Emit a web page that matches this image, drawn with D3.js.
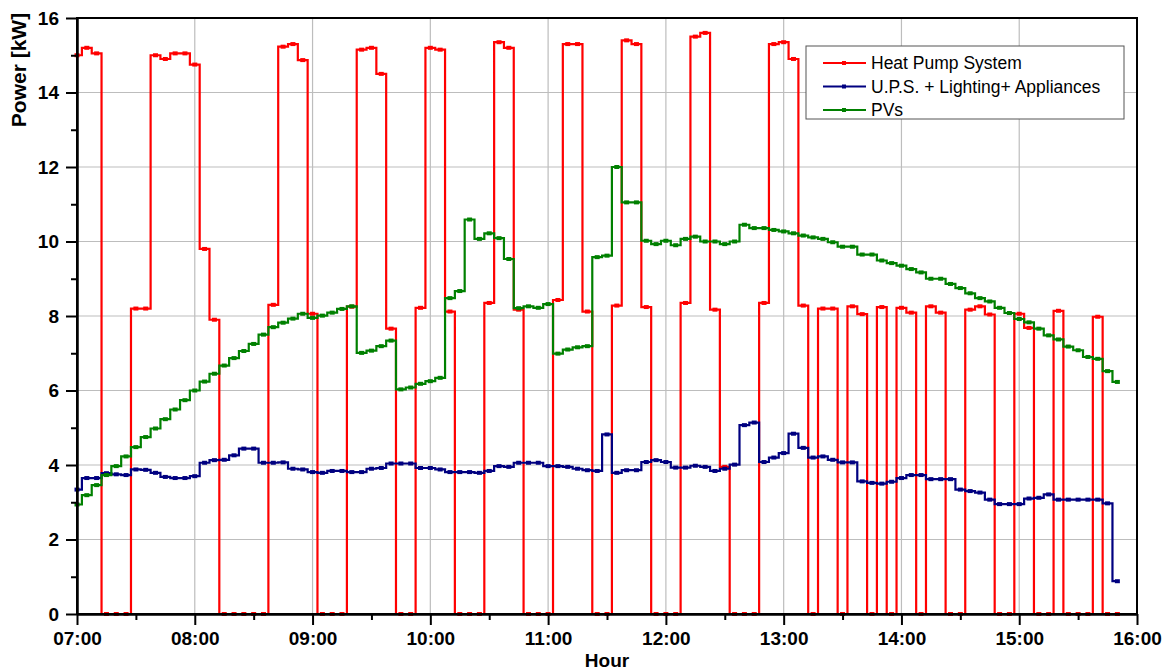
<!DOCTYPE html>
<html>
<head>
<meta charset="utf-8">
<script src="https://cdn.jsdelivr.net/npm/d3@7"></script>
<style>
    body { margin: 0; background: #fff; }
    svg { display: block; font-family: "Liberation Sans", Arial, sans-serif; }
</style>
</head>
<body>
<svg id="chart" width="1167" height="672"></svg>
<script>

// sample times (5 min logging)
var times = [
    "07:00","07:05","07:10","07:15","07:20","07:25","07:30","07:35","07:40","07:45","07:50","07:55",
    "08:00","08:05","08:10","08:15","08:20","08:25","08:30","08:35","08:40","08:45","08:50","08:55",
    "09:00","09:05","09:10","09:15","09:20","09:25","09:30","09:35","09:40","09:45","09:50","09:55",
    "10:00","10:05","10:10","10:15","10:20","10:25","10:30","10:35","10:40","10:45","10:50","10:55",
    "11:00","11:05","11:10","11:15","11:20","11:25","11:30","11:35","11:40","11:45","11:50","11:55",
    "12:00","12:05","12:10","12:15","12:20","12:25","12:30","12:35","12:40","12:45","12:50","12:55",
    "13:00","13:05","13:10","13:15","13:20","13:25","13:30","13:35","13:40","13:45","13:50","13:55",
    "14:00","14:05","14:10","14:15","14:20","14:25","14:30","14:35","14:40","14:45","14:50","14:55",
    "15:00","15:05","15:10","15:15","15:20","15:25","15:30","15:35","15:40","15:45","15:50"
];

// power values [kW]
var heatPump = [
    15.0, 15.2, 15.05, 0, 0, 0, 8.2, 8.2, 15.0, 14.9, 15.05, 15.05,
    14.75, 9.8, 7.9, 0, 0, 0, 0, 0, 8.3, 15.23, 15.3, 14.87,
    8.06, 0, 0, 0, 8.25, 15.15, 15.2, 14.5, 7.66, 0, 0, 8.22,
    15.2, 15.15, 8.12, 0, 0, 0, 8.35, 15.35, 15.2, 8.17, 0, 0,
    0, 8.43, 15.3, 15.3, 8.12, 0, 0, 8.28, 15.4, 15.3, 8.24, 0,
    0, 0, 8.35, 15.5, 15.6, 8.17, 3.95, 0, 0, 0, 8.35, 15.3,
    15.35, 14.9, 8.28, 0, 8.2, 8.2, 0, 8.26, 8.05, 0, 8.24, 0,
    8.22, 8.09, 0, 8.26, 8.09, 0, 0, 8.17, 8.26, 8.04, 0, 0,
    8.06, 7.68, 0, 0, 8.14, 0, 0, 0, 7.98, 0, 0
];

var upsLighting = [
    3.34, 3.65, 3.65, 3.78, 3.75, 3.73, 3.88, 3.87, 3.79, 3.68, 3.65, 3.65,
    3.7, 4.06, 4.13, 4.14, 4.26, 4.44, 4.44, 4.06, 4.06, 4.07, 3.9, 3.88,
    3.81, 3.79, 3.84, 3.84, 3.81, 3.81, 3.9, 3.92, 4.04, 4.04, 4.04, 3.92,
    3.92, 3.88, 3.81, 3.81, 3.81, 3.79, 3.84, 3.97, 3.95, 4.06, 4.06, 4.06,
    3.97, 3.97, 3.95, 3.9, 3.86, 3.84, 4.82, 3.79, 3.86, 3.86, 4.08, 4.13,
    4.08, 3.93, 3.93, 3.98, 3.95, 3.84, 3.9, 4.01, 5.07, 5.14, 4.08, 4.2,
    4.32, 4.84, 4.46, 4.2, 4.23, 4.14, 4.07, 4.07, 3.56, 3.52, 3.5, 3.55,
    3.65, 3.73, 3.73, 3.62, 3.62, 3.62, 3.34, 3.3, 3.26, 3.07, 2.95, 2.95,
    2.95, 3.1, 3.12, 3.21, 3.07, 3.07, 3.07, 3.07, 3.07, 2.97, 0.88
];

var pvs = [
    2.94, 3.19, 3.46, 3.73, 3.97, 4.23, 4.48, 4.75, 4.98, 5.23, 5.49, 5.74,
    6.0, 6.24, 6.45, 6.67, 6.87, 7.06, 7.25, 7.5, 7.7, 7.82, 7.93, 8.06,
    7.95, 8.01, 8.09, 8.19, 8.26, 7.01, 7.07, 7.19, 7.34, 6.03, 6.08, 6.18,
    6.25, 6.34, 8.48, 8.67, 10.59, 10.07, 10.22, 10.09, 9.53, 8.21, 8.26, 8.22,
    8.32, 6.99, 7.1, 7.16, 7.19, 9.58, 9.62, 12.0, 11.05, 11.05, 10.02, 9.93,
    10.02, 9.9, 10.07, 10.13, 10.0, 10.0, 9.93, 10.0, 10.45, 10.36, 10.36, 10.31,
    10.27, 10.22, 10.16, 10.11, 10.07, 9.98, 9.86, 9.86, 9.65, 9.65, 9.49, 9.42,
    9.35, 9.26, 9.17, 9.0, 9.0, 8.86, 8.75, 8.61, 8.48, 8.39, 8.22, 8.08,
    7.92, 7.83, 7.66, 7.48, 7.37, 7.18, 7.08, 6.9, 6.85, 6.52, 6.23
];

var seriesNames = ["Heat Pump System", "U.P.S. + Lighting+ Appliances", "PVs"];
var seriesColors = ["#ff0000", "#000080", "#008000"];

var hourTicks = ["07:00","08:00","09:00","10:00","11:00","12:00","13:00","14:00","15:00","16:00"];
var halfHourTicks = ["07:30","08:30","09:30","10:30","11:30","12:30","13:30","14:30","15:30"];
var powerTicks = [0, 2, 4, 6, 8, 10, 12, 14, 16];
var minorPowerTicks = [1, 3, 5, 7, 9, 11, 13, 15];

(function() {

    var parseTime = d3.timeParse("%H:%M");

    var svg = d3.select("#chart");
    var plotLeft = 77, plotRight = 1137, plotTop = 18, plotBottom = 614;

    var x = d3.scaleTime()
        .domain([parseTime("07:00"), parseTime("16:00")])
        .range([plotLeft, plotRight]);

    var y = d3.scaleLinear()
        .domain([0, 16])
        .range([plotBottom, plotTop]);

    // grid
    svg.append("g")
        .selectAll("line")
        .data(hourTicks.slice(1, -1))
        .enter()
        .append("line")
        .attr("x1", function(d) { return x(parseTime(d)); })
        .attr("x2", function(d) { return x(parseTime(d)); })
        .attr("y1", plotTop)
        .attr("y2", plotBottom)
        .style("stroke", "#bdbdbd")
        .style("stroke-width", 1.2);

    svg.append("g")
        .selectAll("line")
        .data(powerTicks.slice(1, -1))
        .enter()
        .append("line")
        .attr("x1", plotLeft)
        .attr("x2", plotRight)
        .attr("y1", function(d) { return y(d); })
        .attr("y2", function(d) { return y(d); })
        .style("stroke", "#bdbdbd")
        .style("stroke-width", 1.2);

    // series
    var allSeries = [heatPump, upsLighting, pvs];

    var line = d3.line()
        .x(function(d, i) { return x(parseTime(times[i])); })
        .y(function(d) { return y(d); })
        .curve(d3.curveStep);

    allSeries.forEach(function(values, k) {
        svg.append("path")
            .datum(values)
            .attr("d", line)
            .style("fill", "none")
            .style("stroke", seriesColors[k])
            .style("stroke-width", 2.2);

        svg.append("g")
            .selectAll("rect")
            .data(values)
            .enter()
            .append("rect")
            .attr("x", function(d, i) { return x(parseTime(times[i])) - 2.5; })
            .attr("y", function(d) { return y(d) - 2; })
            .attr("width", 5)
            .attr("height", 4)
            .style("fill", seriesColors[k]);
    });

    // frame
    svg.append("rect")
        .attr("x", plotLeft)
        .attr("y", plotTop)
        .attr("width", plotRight - plotLeft)
        .attr("height", plotBottom - plotTop)
        .style("fill", "none")
        .style("stroke", "#000")
        .style("stroke-width", 2);

    // axes
    var xAxis = d3.axisBottom(x)
        .tickValues(hourTicks.map(parseTime))
        .tickFormat(d3.timeFormat("%H:%M"))
        .tickSize(11)
        .tickSizeOuter(0)
        .tickPadding(7);

    var xMinor = d3.axisBottom(x)
        .tickValues(halfHourTicks.map(parseTime))
        .tickFormat("")
        .tickSize(6)
        .tickSizeOuter(0);

    var yAxis = d3.axisLeft(y)
        .tickValues(powerTicks)
        .tickSize(11)
        .tickSizeOuter(0)
        .tickPadding(7);

    var yMinor = d3.axisLeft(y)
        .tickValues(minorPowerTicks)
        .tickFormat("")
        .tickSize(6)
        .tickSizeOuter(0);

    [
        [xAxis, "translate(0," + plotBottom + ")"],
        [xMinor, "translate(0," + plotBottom + ")"],
        [yAxis, "translate(" + plotLeft + ",0)"],
        [yMinor, "translate(" + plotLeft + ",0)"]
    ].forEach(function(a) {
        var g = svg.append("g")
            .attr("transform", a[1])
            .call(a[0]);
        g.selectAll("path, line")
            .style("stroke", "#000")
            .style("stroke-width", 2);
        g.selectAll("text")
            .style("font-size", "19px")
            .style("font-weight", "bold")
            .style("fill", "#000");
    });

    // axis titles
    svg.append("text")
        .attr("transform", "translate(26,70) rotate(-90)")
        .attr("text-anchor", "middle")
        .style("font-size", "21px")
        .style("font-weight", "bold")
        .text("Power [kW]");

    svg.append("text")
        .attr("x", 607)
        .attr("y", 667)
        .attr("text-anchor", "middle")
        .style("font-size", "19px")
        .style("font-weight", "bold")
        .text("Hour");

    // legend
    var legend = svg.append("g");

    legend.append("rect")
        .attr("x", 806)
        .attr("y", 46)
        .attr("width", 318)
        .attr("height", 73)
        .style("fill", "#fff")
        .style("stroke", "#555")
        .style("stroke-width", 1);

    seriesNames.forEach(function(name, k) {
        var ly = 63 + k * 23.5;
        legend.append("line")
            .attr("x1", 823)
            .attr("x2", 866)
            .attr("y1", ly)
            .attr("y2", ly)
            .style("stroke", seriesColors[k])
            .style("stroke-width", 2);
        legend.append("rect")
            .attr("x", 842)
            .attr("y", ly - 2)
            .attr("width", 4)
            .attr("height", 4)
            .style("fill", seriesColors[k]);
        legend.append("text")
            .attr("x", 871)
            .attr("y", ly + 6)
            .style("font-size", "17.5px")
            .style("fill", "#000")
            .text(name);
    });

})();

</script>
</body>
</html>
